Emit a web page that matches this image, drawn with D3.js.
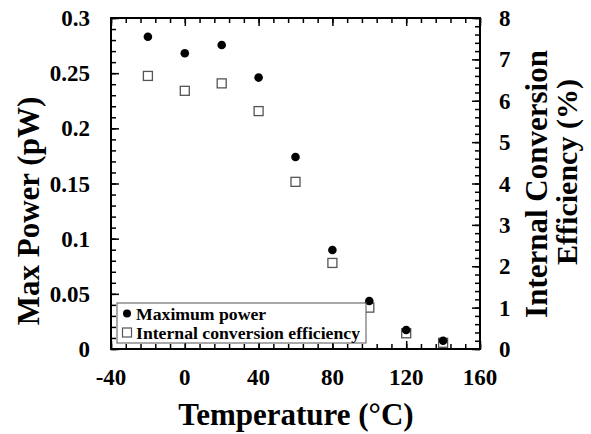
<!DOCTYPE html>
<html>
<head>
<meta charset="utf-8">
<title>Max power and conversion efficiency</title>
<style>
body { margin: 0; background-color: #ffffff; }
text { font-family: "Liberation Serif", "Times New Roman", serif; font-weight: bold; fill: #000; }
</style>
</head>
<body>
<script src="https://cdn.jsdelivr.net/npm/d3@7"></script>
<script>

// values
var temps = [-20, 0, 20, 40, 60, 80, 100, 120, 140];
var maxPower = [0.283, 0.268, 0.2755, 0.246, 0.174, 0.0897, 0.0435, 0.0172, 0.0075];
var efficiency = [6.60, 6.24, 6.42, 5.75, 4.04, 2.08, 1.00, 0.38, 0.15];

var xTickLabels = [-40, 0, 40, 80, 120, 160];
var yLeftTickLabels = [0, 0.05, 0.1, 0.15, 0.2, 0.25, 0.3];
var yRightTickLabels = [0, 1, 2, 3, 4, 5, 6, 7, 8];
var legendLabels = ["Maximum power", "Internal conversion efficiency"];

var w = 591, h = 434;
var pLeft = 111, pRight = 480, pTop = 18, pBottom = 349;

var svg = d3.select("body")
            .append("svg")
            .attr("width", w)
            .attr("height", h);

var x = d3.scaleLinear().domain([-40, 160]).range([pLeft, pRight]);
var yL = d3.scaleLinear().domain([0, 0.3]).range([pBottom, pTop]);
var yR = d3.scaleLinear().domain([0, 8]).range([pBottom, pTop]);

// tick values for the frame
var xMinor = d3.range(-40, 161, 8), xMajor = d3.range(-40, 161, 40);
var lMinor = d3.range(0, 31).map(function(d) { return d / 100; });
var lMajor = d3.range(0, 7).map(function(d) { return d / 20; });
var rMinor = d3.range(0, 41).map(function(d) { return d / 5; });
var rMajor = d3.range(0, 9);

function ticks(axis, vals, len, tr) {
  var g = svg.append("g")
     .attr("transform", tr)
     .call(axis.tickValues(vals).tickSize(-len).tickSizeOuter(0).tickFormat(""));
  g.select(".domain").remove();
  g.selectAll("line").attr("stroke", "#000").attr("stroke-width", 1.5);
}

ticks(d3.axisBottom(x), xMinor, 5, "translate(0," + pBottom + ")");
ticks(d3.axisBottom(x), xMajor, 8, "translate(0," + pBottom + ")");
ticks(d3.axisTop(x), xMinor, 5, "translate(0," + pTop + ")");
ticks(d3.axisTop(x), xMajor, 8, "translate(0," + pTop + ")");
ticks(d3.axisLeft(yL), lMinor, 5, "translate(" + pLeft + ",0)");
ticks(d3.axisLeft(yL), lMajor, 8, "translate(" + pLeft + ",0)");
ticks(d3.axisRight(yR), rMinor, 5, "translate(" + pRight + ",0)");
ticks(d3.axisRight(yR), rMajor, 8, "translate(" + pRight + ",0)");

// frame
svg.append("rect")
   .attr("x", pLeft).attr("y", pTop)
   .attr("width", pRight - pLeft).attr("height", pBottom - pTop)
   .attr("fill", "none")
   .attr("stroke", "#000")
   .attr("stroke-width", 2);

// tick labels
svg.selectAll("text.xl")
   .data(xTickLabels).enter()
   .append("text")
   .attr("class", "xl")
   .attr("x", function(d) { return x(d); })
   .attr("y", 385)
   .attr("text-anchor", "middle")
   .attr("font-size", "23px")
   .text(function(d) { return d; });

svg.selectAll("text.yl")
   .data(yLeftTickLabels).enter()
   .append("text")
   .attr("class", "yl")
   .attr("x", 90)
   .attr("y", function(d) { return yL(d); })
   .attr("dy", "0.35em")
   .attr("text-anchor", "end")
   .attr("font-size", "23px")
   .text(function(d) { return String(+d.toFixed(2)); });

svg.selectAll("text.yr")
   .data(yRightTickLabels).enter()
   .append("text")
   .attr("class", "yr")
   .attr("x", 499)
   .attr("y", function(d) { return yR(d); })
   .attr("dy", "0.35em")
   .attr("text-anchor", "start")
   .attr("font-size", "23px")
   .text(function(d) { return d; });

// axis titles
svg.append("text")
   .attr("x", 296).attr("y", 425)
   .attr("text-anchor", "middle")
   .attr("font-size", "31px")
   .text("Temperature (\u00B0C)");

svg.append("text")
   .attr("transform", "translate(39,211) rotate(-90)")
   .attr("text-anchor", "middle")
   .attr("font-size", "31px")
   .text("Max Power (pW)");

svg.append("text")
   .attr("transform", "translate(547,184) rotate(-90)")
   .attr("text-anchor", "middle")
   .attr("font-size", "31px")
   .text("Internal Conversion");

svg.append("text")
   .attr("transform", "translate(577,172) rotate(-90)")
   .attr("text-anchor", "middle")
   .attr("font-size", "30px")
   .text("Efficiency (%)");

// efficiency squares
svg.selectAll("rect.eff")
   .data(temps).enter()
   .append("rect")
   .attr("class", "eff")
   .attr("x", function(d) { return x(d) - 4.5; })
   .attr("y", function(d, i) { return yR(efficiency[i]) - 4.5; })
   .attr("width", 9).attr("height", 9)
   .attr("fill", "#fff")
   .attr("stroke", "#555")
   .attr("stroke-width", 1.3);

// power circles
svg.selectAll("circle.pow")
   .data(temps).enter()
   .append("circle")
   .attr("class", "pow")
   .attr("cx", function(d) { return x(d); })
   .attr("cy", function(d, i) { return yL(maxPower[i]); })
   .attr("r", 4.3)
   .attr("fill", "#000");

// legend
var lg = svg.append("g");
lg.append("rect")
  .attr("x", 117).attr("y", 303)
  .attr("width", 249).attr("height", 40)
  .attr("fill", "#fff")
  .attr("stroke", "#555")
  .attr("stroke-width", 1);
lg.append("circle")
  .attr("cx", 127).attr("cy", 313.5).attr("r", 4)
  .attr("fill", "#000");
lg.append("rect")
  .attr("x", 122.5).attr("y", 328).attr("width", 9).attr("height", 9)
  .attr("fill", "#fff").attr("stroke", "#555").attr("stroke-width", 1.2);
lg.selectAll("text")
  .data(legendLabels).enter()
  .append("text")
  .attr("x", 136)
  .attr("y", function(d, i) { return 319.5 + i * 19; })
  .attr("font-size", "17.7px")
  .text(function(d) { return d; });

</script>
</body>
</html>
